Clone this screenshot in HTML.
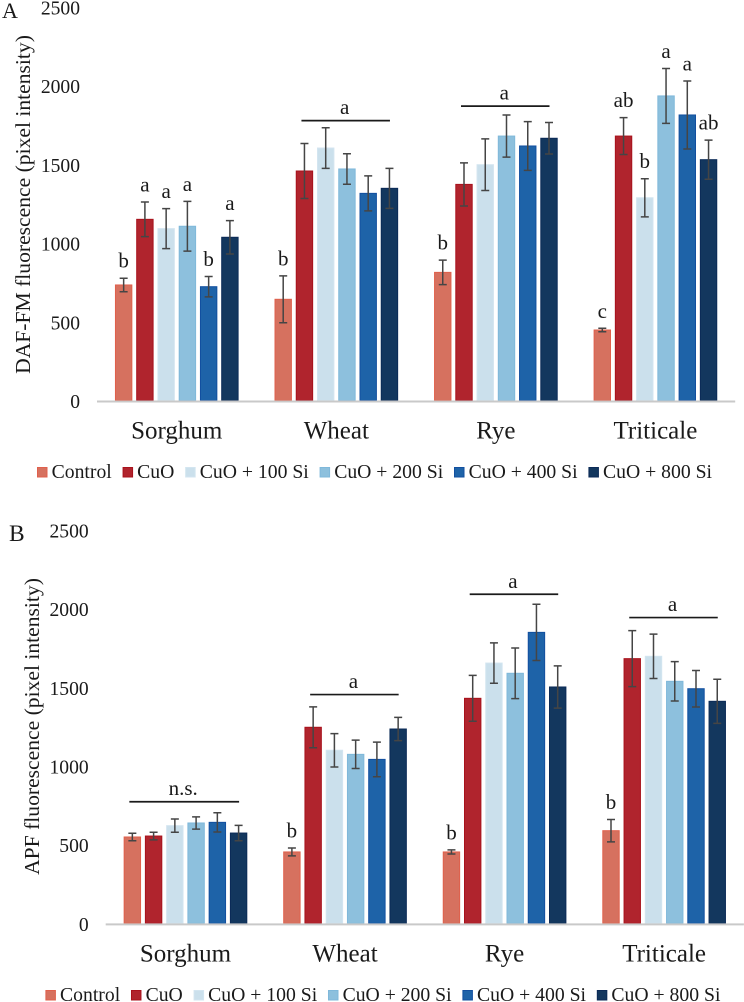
<!DOCTYPE html>
<html lang="en">
<head>
<meta charset="utf-8">
<title>DAF-FM and APF fluorescence by crop and treatment</title>
<style>
html,body{margin:0;padding:0;background:#fff;}
svg{display:block;font-family:"Liberation Serif",serif;fill:#1a1a1a;filter:blur(0.3px);}
.s0{fill:#d6715f;stroke:#e0604c;}
.s1{fill:#b0242d;stroke:#a8121c;}
.s2{fill:#cbe0ec;stroke:#d3e5f0;}
.s3{fill:#8dc0dd;stroke:#7fb8da;}
.s4{fill:#1e63a8;stroke:#124f9f;}
.s5{fill:#13375e;stroke:#0b2a57;}
.bar{stroke-width:1;}
.err{stroke:#454545;stroke-width:1.5;fill:none;}
.axis{stroke:#c9c9c9;stroke-width:2;}
.bracket{stroke:#1a1a1a;stroke-width:1.7;}
.tick{font-size:19.6px;text-anchor:end;}
.cat{font-size:25px;text-anchor:middle;}
.leg{font-size:19.7px;}
.sig{font-size:21px;text-anchor:middle;}
.ytitle{font-size:21.6px;text-anchor:middle;}
.panel{font-size:22px;}
.panel-b{font-size:23.5px;}
</style>
</head>
<body>
<svg id="figure" xmlns="http://www.w3.org/2000/svg" width="744" height="1002" viewBox="0 0 744 1002">
  <text class="panel" x="2" y="18">A</text>
  <text class="panel-b" x="9" y="541">B</text>
  <text class="ytitle" transform="translate(30 204.5) rotate(-90)">DAF-FM fluorescence (pixel intensity)</text>
  <text class="ytitle" transform="translate(39 726.5) rotate(-90)">APF fluorescence (pixel intensity)</text>
</svg>
<script>
const categories = ['Sorghum', 'Wheat', 'Rye', 'Triticale'];
const seriesNames = ['Control', 'CuO', 'CuO + 100 Si', 'CuO + 200 Si', 'CuO + 400 Si', 'CuO + 800 Si'];
const tickLabels = [0, 500, 1000, 1500, 2000, 2500];

// Panel A: DAF-FM. One row per treatment, one value per crop.
const dafControl = [734, 643, 814, 448];
const dafCuO = [1151, 1458, 1373, 1680];
const daf100 = [1092, 1604, 1498, 1288];
const daf200 = [1107, 1471, 1680, 1935];
const daf400 = [723, 1316, 1617, 1814];
const daf800 = [1037, 1348, 1666, 1530];
const dafControlErr = [43, 149, 78, 11];
const dafCuOErr = [110, 175, 137, 117];
const daf100Err = [127, 129, 164, 121];
const daf200Err = [158, 97, 134, 174];
const daf400Err = [65, 111, 155, 216];
const daf800Err = [106, 127, 100, 124];
const dafLetterControl = ['b', 'b', 'b', 'c'];
const dafLetterCuO = ['a', '', '', 'ab'];
const dafLetter100 = ['a', '', '', 'b'];
const dafLetter200 = ['a', '', '', 'a'];
const dafLetter400 = ['b', '', '', 'a'];
const dafLetter800 = ['a', '', '', 'ab'];
const dafBracketGroups = [1, 2];
const dafBracketFirstSeries = [1, 1];
const dafBracketLevels = [1778, 1870];
const dafBracketLabels = ['a', 'a'];

// Panel B: APF.
const apfControl = [549, 454, 454, 589];
const apfCuO = [555, 1246, 1430, 1682];
const apf100 = [621, 1100, 1654, 1697];
const apf200 = [638, 1074, 1589, 1538];
const apf400 = [642, 1042, 1849, 1491];
const apf800 = [574, 1235, 1502, 1411];
const apfControlErr = [24, 25, 13, 71];
const apfCuOErr = [24, 130, 146, 178];
const apf100Err = [42, 106, 128, 141];
const apf200Err = [39, 90, 161, 125];
const apf400Err = [61, 110, 179, 116];
const apf800Err = [49, 74, 134, 140];
const apfLetterControl = ['', 'b', 'b', 'b'];
const apfLetterCuO = ['', '', '', ''];
const apfLetter100 = ['', '', '', ''];
const apfLetter200 = ['', '', '', ''];
const apfLetter400 = ['', '', '', ''];
const apfLetter800 = ['', '', '', ''];
const apfBracketGroups = [0, 1, 2, 3];
const apfBracketFirstSeries = [0, 1, 1, 1];
const apfBracketLevels = [773, 1454, 2091, 1943];
const apfBracketLabels = ['n.s.', 'a', 'a', 'a'];

const svg = document.getElementById('figure');
const NS = 'http://www.w3.org/2000/svg';

function make(tag, attrs, text) {
  const el = document.createElementNS(NS, tag);
  for (const k in attrs) el.setAttribute(k, attrs[k]);
  if (text !== undefined) el.textContent = text;
  svg.appendChild(el);
  return el;
}

function drawPanel(p) {
  const PX_PER_UNIT = 0.1574;
  const groupStep = 159.55;
  const barStep = 21.25;
  const barWidth = 16.4;
  const y = v => p.zeroY - v * PX_PER_UNIT;
  const cx = (g, s) => p.left + groupStep * (g + 0.5) + barStep * (s - 2.5);

  tickLabels.forEach(t => {
    const el = make('text', {class: 'tick', x: p.left - 17, y: y(t) + 7.5}, String(t));
    
    
  });

  p.values.forEach((vals, s) => {
    vals.forEach((v, g) => {
      const bar = make('rect', {class: 'bar s' + s, x: cx(g, s) - barWidth / 2, y: y(v), width: barWidth, height: p.zeroY - y(v)});
      
      
    });
  });

  const axis = make('line', {class: 'axis', x1: p.left, x2: p.left + groupStep * categories.length, y1: p.zeroY + 1, y2: p.zeroY + 1});
  
  

  p.values.forEach((vals, s) => {
    vals.forEach((v, g) => {
      const e = p.errors[s][g];
      const x = cx(g, s);
      const d = 'M' + (x - 4) + ' ' + y(v + e) + 'H' + (x + 4) + 'M' + x + ' ' + y(v + e) + 'V' + y(v - e) + 'M' + (x - 4) + ' ' + y(v - e) + 'H' + (x + 4);
      const err = make('path', {class: 'err', d: d});
      
      
      const letter = p.letters[s][g];
      if (letter) {
        const t = make('text', {class: 'sig', x: x, y: y(v + e) - 10.5}, letter);
        
        
      }
    });
  });

  p.bracketGroups.forEach((g, i) => {
    const first = p.bracketFirst[i];
    const x1 = cx(g, first) - 3;
    const x2 = cx(g, 5) + 0.5;
    const by = y(p.bracketLevels[i]);
    const line = make('line', {class: 'bracket', x1: x1, x2: x2, y1: by, y2: by});
    
    
    const t = make('text', {class: 'sig', x: (x1 + x2) / 2 - 1, y: by - 6.5}, p.bracketLabels[i]);
    
    
  });

  categories.forEach((c, g) => {
    const t = make('text', {class: 'cat', x: p.left + groupStep * (g + 0.5), y: p.zeroY + 38}, c);
    
    
  });

  let lx = p.legendX;
  seriesNames.forEach((name, s) => {
    const sw = make('rect', {class: 'bar s' + s, x: lx + 0.5, y: p.legendY + 0.5, width: 9.5, height: 9.5});
    
    
    const t = make('text', {class: 'leg', x: lx + 14.6, y: p.legendY + 11}, name);
    
    
    lx += 14.6 + t.getComputedTextLength() + 10.8;
  });
}

drawPanel({
  left: 97, zeroY: 400.5, legendX: 37, legendY: 467,
  values: [dafControl, dafCuO, daf100, daf200, daf400, daf800],
  errors: [dafControlErr, dafCuOErr, daf100Err, daf200Err, daf400Err, daf800Err],
  letters: [dafLetterControl, dafLetterCuO, dafLetter100, dafLetter200, dafLetter400, dafLetter800],
  bracketGroups: dafBracketGroups, bracketFirst: dafBracketFirstSeries,
  bracketLevels: dafBracketLevels, bracketLabels: dafBracketLabels
});

drawPanel({
  left: 105.7, zeroY: 923.4, legendX: 45.4, legendY: 990,
  values: [apfControl, apfCuO, apf100, apf200, apf400, apf800],
  errors: [apfControlErr, apfCuOErr, apf100Err, apf200Err, apf400Err, apf800Err],
  letters: [apfLetterControl, apfLetterCuO, apfLetter100, apfLetter200, apfLetter400, apfLetter800],
  bracketGroups: apfBracketGroups, bracketFirst: apfBracketFirstSeries,
  bracketLevels: apfBracketLevels, bracketLabels: apfBracketLabels
});
</script>
</body>
</html>
